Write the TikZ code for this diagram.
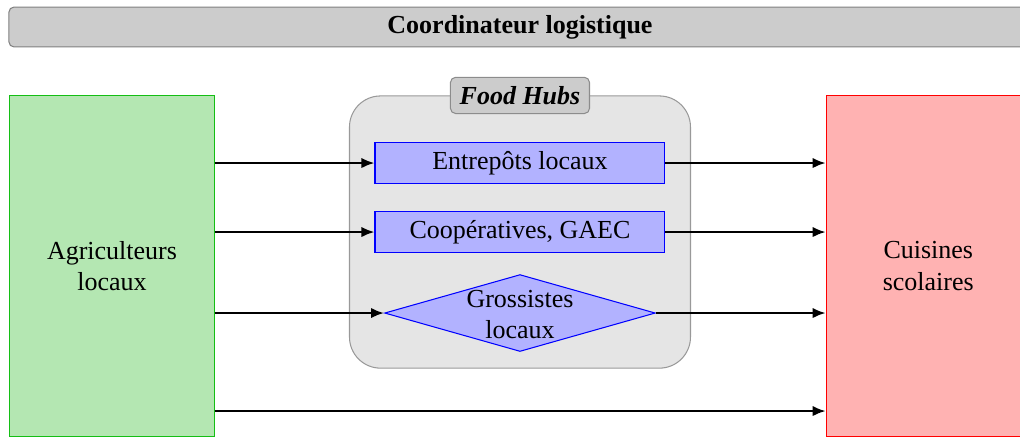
\documentclass[tikz,border=0pt]{standalone}
\usepackage{fontspec}
\setmainfont{Liberation Serif}
\usepackage{xcolor}
\usetikzlibrary{shapes,arrows, positioning, arrows.meta}

\definecolor{agrigreen}{RGB}{180,231,178}
\definecolor{agriborder}{RGB}{20,190,20}

\tikzset{
    acteur/.style={draw, minimum width=2.76cm, minimum height=4.6cm, align=center, inner sep=0pt},
    hubbox/.style={draw=blue, fill=blue!30, minimum width=3.92cm, minimum height=0.555cm, inner sep=0pt},
    hubdiamond/.style={diamond, draw=blue, fill=blue!30, minimum width=3.66cm, minimum height=1.04cm, inner sep=0pt},
    flux/.style={line width=0.9pt, -{Latex[length=5pt, width=4pt]}}
}

\begin{document}
\begin{tikzpicture}
    \useasboundingbox (0,0) rectangle (13.79,-5.91);
    % Bandeau du coordinateur
    \node[draw=black!50, fill=black!20, rounded corners=2pt, minimum width=13.82cm, minimum height=0.54cm, inner sep=0pt, font=\bfseries] (coord) at (7.03,-0.365) {Coordinateur logistique};
    % Conteneur des food hubs
    \node[draw=black!40, fill=black!10, rounded corners=0.42cm, minimum width=4.61cm, minimum height=3.68cm] (hubs) at (7.03,-3.137) {};
    \node[draw=black!45, fill=black!20, rounded corners=2pt, minimum width=1.88cm, minimum height=0.49cm, inner sep=0pt, font=\bfseries\itshape] (hubtitre) at (hubs.north) {Food Hubs};
    % Acteurs
    \node[acteur, draw=agriborder, fill=agrigreen] (agri) at (1.514,-3.596) {Agriculteurs\\locaux};
    \node[acteur, draw=red, fill=red!30] (cuisines) at (12.55,-3.596) {Cuisines\\scolaires};
    % Intermediaires
    \node[hubbox] (entrepots) at (7.03,-2.204) {Entrepôts locaux};
    \node[hubbox] (coop) at (7.03,-3.137) {Coopératives, GAEC};
    \node[hubdiamond, label={[align=center, yshift=-0.02cm]center:Grossistes\\locaux}] (gross) at (7.03,-4.232) {};
    \coordinate (direct) at (7.03,-5.557);
    % Flux
    \draw[flux] (agri.east |- entrepots) -- (entrepots.west);
    \draw[flux] (agri.east |- coop) -- (coop.west);
    \draw[flux] (agri.east |- gross) -- (gross.west);
    \draw[flux] (agri.east |- direct) -- (cuisines.west |- direct);
    \draw[flux] (entrepots.east) -- (cuisines.west |- entrepots);
    \draw[flux] (coop.east) -- (cuisines.west |- coop);
    \draw[flux] (gross.east) -- (cuisines.west |- gross);
\end{tikzpicture}
\end{document}
